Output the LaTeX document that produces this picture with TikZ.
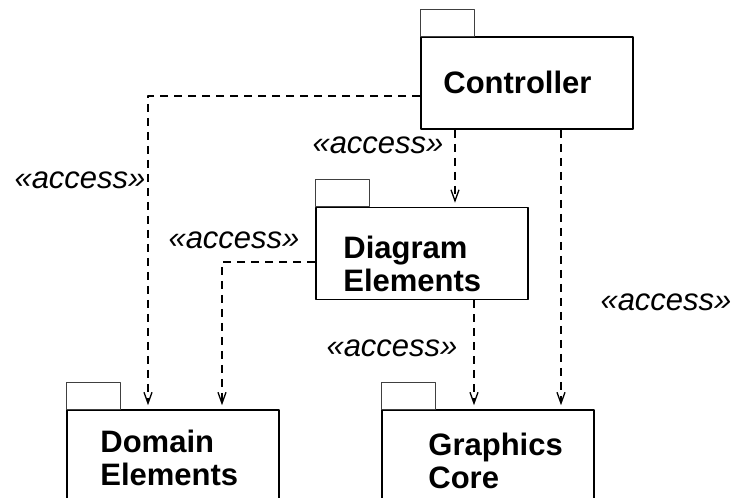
\documentclass[tikz,border=0pt]{standalone}
\usepackage{fontspec}
\setmainfont{Liberation Sans}
\usetikzlibrary{arrows.meta}
\tikzset{
  pkg/.style={draw,line width=1.6pt,minimum width=212pt,minimum height=92pt,inner sep=0pt},
  pkgtab/.style={draw=black!75,line width=1pt},
  pkgname/.style={font=\fontsize{31}{33}\selectfont\bfseries,align=left,anchor=base west,inner sep=0pt},
  stereo/.style={font=\fontsize{31}{33}\selectfont\itshape,inner sep=0pt},
  dep/.style={line width=1.6pt,dash pattern=on 8pt off 6pt,shorten >=4pt,
    -{Straight Barb[length=11pt,width=8pt,line width=1.3pt]}}
}
\begin{document}
\begin{tikzpicture}[x=1pt,y=-1pt,line join=round]
  \clip (0,0) rectangle (734,498);
  % packages
  \node[pkg] (ctrl) at (527,83) {};
  \node[pkg] (diag) at (422,253.5) {};
  \node[pkg] (dom) at (173,456) {};
  \node[pkg] (gfx) at (488,456) {};
  \foreach \p in {ctrl,diag,dom,gfx}
    \draw[pkgtab] (\p.north west) rectangle ++(54,-27);
  % names (base = last line)
  \node[pkgname] (ctrlname) at ([shift={(23,57)}]ctrl.north west) {Controller};
  \node[pkgname] (diagname) at ([shift={(28,85)}]diag.north west) {Diagram\\Elements};
  \node[pkgname] (domname) at ([shift={(34,76)}]dom.north west) {Domain\\Elements};
  \node[pkgname] (gfxname) at ([shift={(47,79)}]gfx.north west) {Graphics\\Core};
  % dependencies
  \draw[dep] ([yshift=-13pt]ctrl.west) -| ([xshift=-25pt]dom.north);
  \draw[dep] ([xshift=-72pt]ctrl.south) -- ([xshift=-72pt]ctrl.south |- diag.north);
  \draw[dep] ([yshift=-8.5pt]diag.west) -| ([xshift=49pt]dom.north);
  \draw[dep] ([xshift=52pt]diag.south) -- ([xshift=52pt]diag.south |- gfx.north);
  \draw[dep] ([xshift=34pt]ctrl.south) -- ([xshift=34pt]ctrl.south |- gfx.north);
  % stereotypes
  \node[stereo] (acc1) at (80,180) {«access»};
  \node[stereo] (acc2) at (378,145) {«access»};
  \node[stereo] (acc3) at (234,240) {«access»};
  \node[stereo] (acc4) at (392,348) {«access»};
  \node[stereo] (acc5) at (666,302) {«access»};
\end{tikzpicture}
\end{document}
